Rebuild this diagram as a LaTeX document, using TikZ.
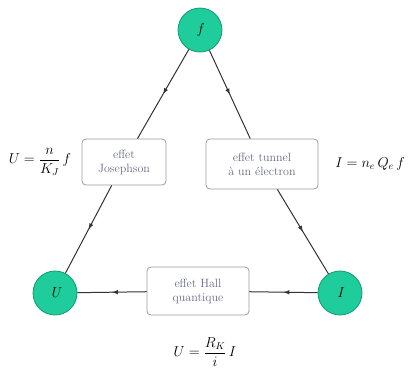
\documentclass[tikz,border=0pt]{standalone}
\usepackage{amsmath}
\usepackage{xcolor}
\usepackage{tikz}
\usetikzlibrary{decorations.markings}
\definecolor{qtyteal}{HTML}{1FCC9B}
\definecolor{tealdark}{HTML}{139A72}
\definecolor{boxgray}{HTML}{9A9AA6}
\definecolor{txtgray}{HTML}{6A6A86}

\begin{document}
\begin{tikzpicture}[x=1pt, y=-1pt,
      qty/.style={circle, draw=tealdark, fill=qtyteal, line width=0.8pt,
                  minimum size=44pt, inner sep=0pt, font=\Large\itshape},
      effect/.style={draw=boxgray, line width=0.8pt, rounded corners=4pt,
                     align=center, inner sep=4pt, font=\large\color{txtgray},
                     fill=white},
      link/.style={draw=black!80, line width=1pt,
                   postaction={decorate},
                   decoration={markings,
                     mark=at position 0.5 with {\arrow{latex}}}},
      rel/.style={font=\Large},
    ]
      \useasboundingbox (0,0) rectangle (410,384);
      % the three quantities
      \node[qty] (freq) at (200,30) {f};
      \node[qty] (volt) at (55,293) {U};
      \node[qty] (curr) at (340,293) {I};
      % the three effects
      \node[effect, minimum width=84pt, minimum height=46pt] (jos) at (124,162)
        {effet\\Josephson};
      \node[effect, minimum width=112pt, minimum height=50pt] (set) at (262,164)
        {effet tunnel\\à un électron};
      \node[effect, minimum width=102pt, minimum height=48pt] (hall) at (198,291)
        {effet Hall\\quantique};
      % links
      \path[link] (freq) -- (jos);
      \path[link] (jos) -- (volt);
      \path[link] (freq) -- (set);
      \path[link] (set) -- (curr);
      \path[link] (curr) -- (hall);
      \path[link] (hall) -- (volt);
      % relations
      \node[rel] (ujos) at (40,162) {$U=\dfrac{n}{K_J}\,f$};
      \node[rel] (iset) at (370,164) {$I=n_e\,Q_e\,f$};
      \node[rel] (uhall) at (205,352) {$U=\dfrac{R_K}{i}\,I$};
    \end{tikzpicture}
\end{document}
